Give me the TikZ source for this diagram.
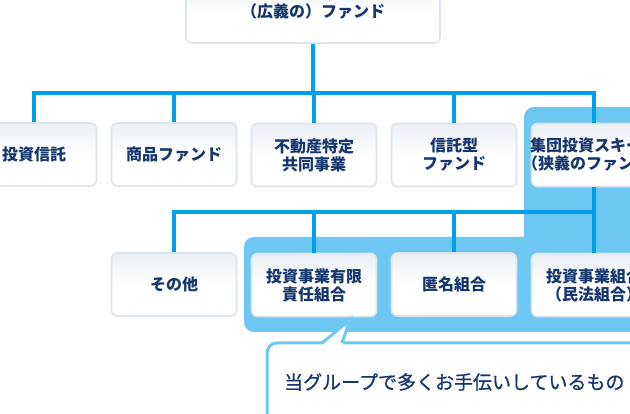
\documentclass[tikz,border=0pt]{standalone}
\usepackage{fontspec}
\setmainfont{Noto Sans CJK JP}
\newfontfamily\notefont{Noto Sans CJK JP}[FakeBold=0.7]
\definecolor{linecol}{HTML}{00A0E9}
\definecolor{panel}{HTML}{6DC7F2}
\definecolor{txt}{HTML}{15376E}
\definecolor{bord}{HTML}{DCE4EC}
\definecolor{topsh}{HTML}{EAEFF4}
\tikzset{
  fundbox/.style={rounded corners=6pt, draw=bord, line width=1.6pt,
    top color=topsh, bottom color=white, middle color=white,
    minimum width=125pt, minimum height=63pt, align=center,
    font=\fontsize{16}{18}\selectfont\bfseries, text=txt, inner sep=0pt},
  conn/.style={draw=linecol, line width=4pt, line join=miter},
}
\begin{document}
\begin{tikzpicture}[x=1pt,y=-1pt]
\useasboundingbox (0,0) rectangle (630,414);
\clip (0,0) rectangle (630,414);
\fill[white] (0,0) rectangle (630,414);
% blue panel
\fill[panel, rounded corners=10pt] (244,237) rectangle (660,332);
\fill[panel, rounded corners=10pt] (524,107) rectangle (660,332);
% nodes
\node[fundbox, minimum width=254pt] (top) at (313,11.5) {（広義の）ファンド};
\node[fundbox] (a1) at (34,154.5) {投資信託};
\node[fundbox] (a2) at (174,154.5) {商品ファンド};
\node[fundbox] (a3) at (314,155) {不動産特定\\共同事業};
\node[fundbox] (a4) at (454,155) {信託型\\ファンド};
\node[fundbox] (a5) at (594,155) {\makebox[120pt]{集団投資スキーム}\\\makebox[120pt]{（狭義のファンド）}};
\node[fundbox] (b1) at (174,284.5) {その他};
\node[fundbox] (b2) at (314,285) {投資事業有限\\責任組合};
\node[fundbox] (b3) at (454,284.5) {匿名組合};
\node[fundbox] (b4) at (594,285) {投資事業組合\\（民法組合）};
% connectors
\coordinate (j1) at (313,93);
\coordinate (j2) at (454,212);
\draw[conn] (top.south) -- (j1);
\draw[conn] (a1.north) |- (j1);
\draw[conn] (a5.north) |- (j1);
\draw[conn] (a2.north) -- (a2.north |- j1);
\draw[conn] (a3.north) -- (a3.north |- j1);
\draw[conn] (a4.north) -- (a4.north |- j1);
\draw[conn] (b1.north) |- (b4.north |- j2);
\draw[conn] (b2.north) -- (b2.north |- j2);
\draw[conn] (b3.north) -- (b3.north |- j2);
\draw[conn] (a5.south) -- (b4.north);
% callout
\draw[fill=white, draw=panel, line width=3pt, rounded corners=10pt] (267,343) rectangle (680,460);
\coordinate (tip) at (350,320);
\fill[white] (321.5,345) -- (tip) -- (342.5,345) -- cycle;
\draw[panel, line width=3pt, line join=miter] (322,343) -- (tip) -- (342,343);
\node[anchor=west, font=\notefont\fontsize{19}{22}\selectfont, text=txt, inner sep=0pt] (note) at (284,382) {当グループで多くお手伝いしているもの};
\end{tikzpicture}
\end{document}
